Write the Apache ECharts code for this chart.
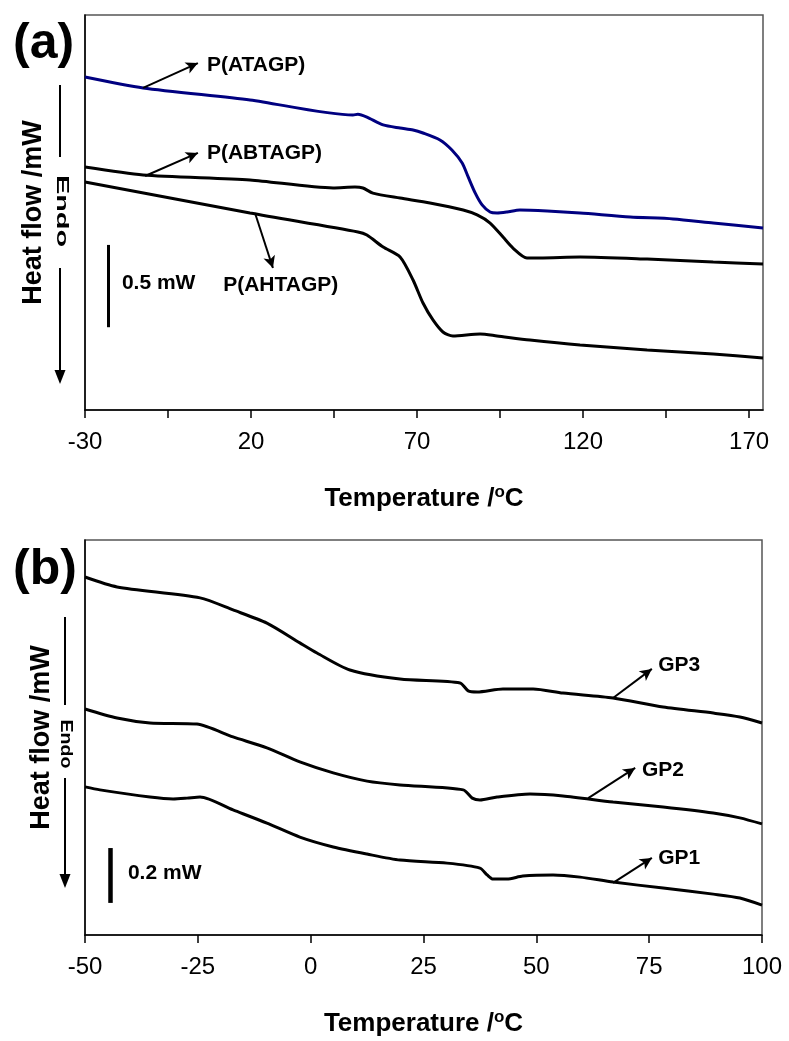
<!DOCTYPE html>
<html><head><meta charset="utf-8">
<script src="https://cdn.jsdelivr.net/npm/echarts@6/dist/echarts.min.js"></script>
<style>html,body{margin:0;padding:0;background:#fff}#c{width:789px;height:1041px}</style>
</head><body><div id="c"></div>
<script>
// ---------- Panel (a) data: temperature (°C) / heat flow (mW, offset) ----------
const ATAGP_T = [-30, -12.5, 19.7, 50.7, 52.2, 54.9, 59.8, 64.9, 68.8, 71.8, 76.9, 80.5, 83.6, 85.4, 87.5, 89.6, 92.0, 94.1, 97.1, 101.0, 109.2, 119.1, 134.2, 147.1, 159.2, 174.2];
const ATAGP_Y = [2.023, 1.957, 1.884, 1.792, 1.797, 1.780, 1.732, 1.713, 1.701, 1.683, 1.641, 1.580, 1.501, 1.416, 1.319, 1.246, 1.203, 1.197, 1.203, 1.215, 1.209, 1.197, 1.173, 1.161, 1.136, 1.106];
const ABTAGP_T = [-30, -12.5, 19.7, 44.7, 51.3, 53.7, 56.7, 64.9, 73.9, 83.9, 88.1, 92.0, 95.9, 98.9, 103.1, 107.0, 119.1, 139.3, 159.2, 174.2];
const ABTAGP_Y = [1.476, 1.428, 1.398, 1.349, 1.355, 1.349, 1.318, 1.288, 1.258, 1.215, 1.185, 1.136, 1.051, 0.984, 0.924, 0.924, 0.930, 0.917, 0.899, 0.887];
const AHTAGP_T = [-30, 19.7, 52.2, 54.9, 59.8, 64.9, 68.8, 71.8, 74.8, 77.8, 80.8, 89.0, 94.1, 104.0, 119.1, 139.3, 159.2, 174.2];
const AHTAGP_Y = [1.385, 1.197, 1.082, 1.063, 0.990, 0.930, 0.790, 0.650, 0.547, 0.474, 0.450, 0.462, 0.450, 0.425, 0.395, 0.365, 0.340, 0.316];
const A_TICK_LABELS = [-30, 20, 70, 120, 170];

// ---------- Panel (b) data ----------
const GP3_T = [-50, -42.9, -24.5, -17.2, -9.7, -2.4, 1.4, 8.7, 19.8, 33.1, 34.9, 36.9, 42.6, 49.3, 55.9, 67.0, 78.1, 89.2, 95.1, 100];
const GP3_Y = [1.305, 1.269, 1.229, 1.185, 1.137, 1.065, 1.028, 0.966, 0.933, 0.919, 0.890, 0.886, 0.897, 0.897, 0.882, 0.864, 0.831, 0.809, 0.795, 0.773];
const GP2_T = [-50, -42.9, -35.6, -25.2, -17.2, -9.7, -2.4, 5.0, 12.5, 19.8, 33.8, 35.8, 37.5, 41.3, 48.6, 55.9, 67.0, 78.1, 89.2, 95.1, 100];
const GP2_Y = [0.824, 0.791, 0.773, 0.769, 0.722, 0.682, 0.631, 0.591, 0.561, 0.547, 0.529, 0.499, 0.492, 0.503, 0.514, 0.507, 0.485, 0.467, 0.445, 0.427, 0.405];
const GP1_T = [-50, -46.7, -35.6, -30.5, -27.4, -24.5, -17.2, -9.7, -2.4, 5.0, 12.5, 19.8, 30.2, 37.5, 39.1, 40.4, 43.5, 47.0, 53.7, 59.7, 67.0, 78.1, 89.2, 95.1, 100];
const GP1_Y = [0.540, 0.529, 0.503, 0.496, 0.499, 0.503, 0.456, 0.408, 0.357, 0.321, 0.295, 0.273, 0.262, 0.244, 0.219, 0.204, 0.204, 0.215, 0.219, 0.211, 0.193, 0.171, 0.149, 0.135, 0.109];
const B_TICK_LABELS = [-50, -25, 0, 25, 50, 75, 100];

// ---------- annotations (data units) ----------
const A_ARROWS = [[[-12.5, 1.957], [4.0, 2.108]], [[-11.9, 1.422], [4.0, 1.562]], [[21.2, 1.197], [26.6, 0.863]]];
const A_LABELS = [['P(ATAGP)', 6.7, 2.096], ['P(ABTAGP)', 6.7, 1.562], ['P(AHTAGP)', 11.6, 0.760], ['0.5 mW', -18.9, 0.772]];
const A_SCALEBAR = [[-23.1, 1.003], [-23.1, 0.503]];
const B_ARROWS = [[[67.0, 0.864], [75.6, 0.970]], [[61.5, 0.499], [71.9, 0.609]], [[67.0, 0.190], [75.6, 0.281]]];
const B_LABELS = [['GP3', 77.0, 0.984], ['GP2', 73.4, 0.602], ['GP1', 77.0, 0.281], ['0.2 mW', -40.5, 0.226]];
const B_SCALEBAR = [[-44.5, 0.317], [-44.5, 0.117]];

const FONT = 'Liberation Sans, Arial, Helvetica, sans-serif';
const zip = (t, y) => t.map((v, i) => [v, y[i]]);

function arrowLines(arrows) {
  return arrows.map(a => [
    { coord: a[0], symbol: 'none', lineStyle: { color: '#000', width: 2, type: 'solid' } },
    { coord: a[1], symbol: 'arrow', symbolSize: [9, 12] }
  ]);
}
function scaleLine(bar, w) {
  return [{ coord: bar[0], symbol: 'none', lineStyle: { color: '#000', width: w, type: 'solid' } },
          { coord: bar[1], symbol: 'none' }];
}
function labelPoints(labels) {
  return labels.map(l => ({ name: l[0], coord: [l[1], l[2]] }));
}
function annot(arrows, bar, barW, labels) {
  return {
    markLine: { silent: true, animation: false, label: { show: false }, data: arrowLines(arrows).concat([scaleLine(bar, barW)]) },
    markPoint: {
      silent: true, animation: false, symbol: 'rect', symbolSize: 0.1,
      itemStyle: { color: 'rgba(0,0,0,0)' },
      label: { show: true, position: 'right', distance: 0, formatter: '{b}', color: '#000', fontWeight: 'bold', fontSize: 21, fontFamily: FONT },
      data: labelPoints(labels)
    }
  };
}

function xAxisCfg(gi, min, max, labels) {
  return {
    type: 'value', gridIndex: gi, min: min, max: max, interval: 25,
    name: 'Temperature /{s|o}C', nameLocation: 'middle', nameGap: 74,
    nameTextStyle: { color: '#000', fontSize: 26, fontWeight: 'bold', fontFamily: FONT,
      rich: { s: { fontSize: 17, fontWeight: 'bold', fontFamily: FONT, verticalAlign: 'top', padding: [0, 0, 12, 0] } } },
    axisLine: { show: true, onZero: false, lineStyle: { color: '#000', width: 1.5 } },
    axisTick: { show: true, inside: false, length: 8, lineStyle: { color: '#000', width: 1.5 } },
    axisLabel: { show: true, margin: 20, color: '#000', fontSize: 24, fontFamily: FONT, showMaxLabel: labels.includes(max),
      formatter: v => labels.includes(Math.round(v * 100) / 100) ? String(Math.round(v)) : '' },
    splitLine: { show: false }
  };
}
function yAxisCfg(gi, max, gap) {
  return {
    type: 'value', gridIndex: gi, min: 0, max: max,
    name: 'Heat flow /mW', nameLocation: 'middle', nameRotate: 90, nameGap: gap,
    nameTextStyle: { color: '#000', fontSize: 27, fontWeight: 'bold', fontFamily: FONT },
    axisLine: { show: true, onZero: false, lineStyle: { color: '#000', width: 1.5 } },
    axisTick: { show: false }, axisLabel: { show: false }, splitLine: { show: false }
  };
}
function lineSeries(name, xi, data, color, extra) {
  return Object.assign({
    type: 'line', name: name, xAxisIndex: xi, yAxisIndex: xi, data: data,
    showSymbol: false, symbol: 'none', smooth: 0.25, clip: true,
    lineStyle: { color: color, width: 3 }, itemStyle: { color: color }
  }, extra || {});
}

const chart = echarts.init(document.getElementById('c'), null, { renderer: 'canvas' });
const option = {
  animation: false,
  backgroundColor: '#fff',
  grid: [
    { left: 85, top: 15, width: 678, height: 395, show: true, borderColor: '#555', borderWidth: 1.5, backgroundColor: 'transparent' },
    { left: 85, top: 540, width: 677, height: 395, show: true, borderColor: '#555', borderWidth: 1.5, backgroundColor: 'transparent' }
  ],
  xAxis: [xAxisCfg(0, -30, 174.2, A_TICK_LABELS), xAxisCfg(1, -50, 100, B_TICK_LABELS)],
  yAxis: [yAxisCfg(0, 2.4, 38), yAxisCfg(1, 1.44, 30)],
  series: [
    lineSeries('P(ATAGP)', 0, zip(ATAGP_T, ATAGP_Y), '#000080'),
    lineSeries('P(ABTAGP)', 0, zip(ABTAGP_T, ABTAGP_Y), '#000'),
    lineSeries('P(AHTAGP)', 0, zip(AHTAGP_T, AHTAGP_Y), '#000', annot(A_ARROWS, A_SCALEBAR, 3, A_LABELS)),
    lineSeries('GP3', 1, zip(GP3_T, GP3_Y), '#000'),
    lineSeries('GP2', 1, zip(GP2_T, GP2_Y), '#000'),
    lineSeries('GP1', 1, zip(GP1_T, GP1_Y), '#000', annot(B_ARROWS, B_SCALEBAR, 4.5, B_LABELS))
  ],
  graphic: [
    { type: 'text', left: 13, top: 19, style: { text: '(a)', fill: '#000', font: 'bold 50px ' + FONT } },
    { type: 'text', left: 13, top: 545, style: { text: '(b)', fill: '#000', font: 'bold 50px ' + FONT } },
    // endo marker (a)
    { type: 'line', shape: { x1: 60, y1: 85, x2: 60, y2: 157 }, style: { stroke: '#000', lineWidth: 2 } },
    { type: 'text', x: 62, y: 211, rotation: -Math.PI / 2, scaleX: 1.7, style: { text: 'Endo', fill: '#000', font: 'bold 17px ' + FONT, textAlign: 'center', textVerticalAlign: 'middle' } },
    { type: 'line', shape: { x1: 60, y1: 268, x2: 60, y2: 374 }, style: { stroke: '#000', lineWidth: 2 } },
    { type: 'polygon', shape: { points: [[54.5, 370], [65.5, 370], [60, 384]] }, style: { fill: '#000' } },
    // endo marker (b)
    { type: 'line', shape: { x1: 65, y1: 617, x2: 65, y2: 705 }, style: { stroke: '#000', lineWidth: 2 } },
    { type: 'text', x: 66, y: 744, rotation: -Math.PI / 2, scaleX: 1.15, style: { text: 'Endo', fill: '#000', font: 'bold 17px ' + FONT, textAlign: 'center', textVerticalAlign: 'middle' } },
    { type: 'line', shape: { x1: 65, y1: 778, x2: 65, y2: 878 }, style: { stroke: '#000', lineWidth: 2 } },
    { type: 'polygon', shape: { points: [[59.5, 874], [70.5, 874], [65, 888]] }, style: { fill: '#000' } }
  ]
};
chart.setOption(option);
</script>
</body></html>
